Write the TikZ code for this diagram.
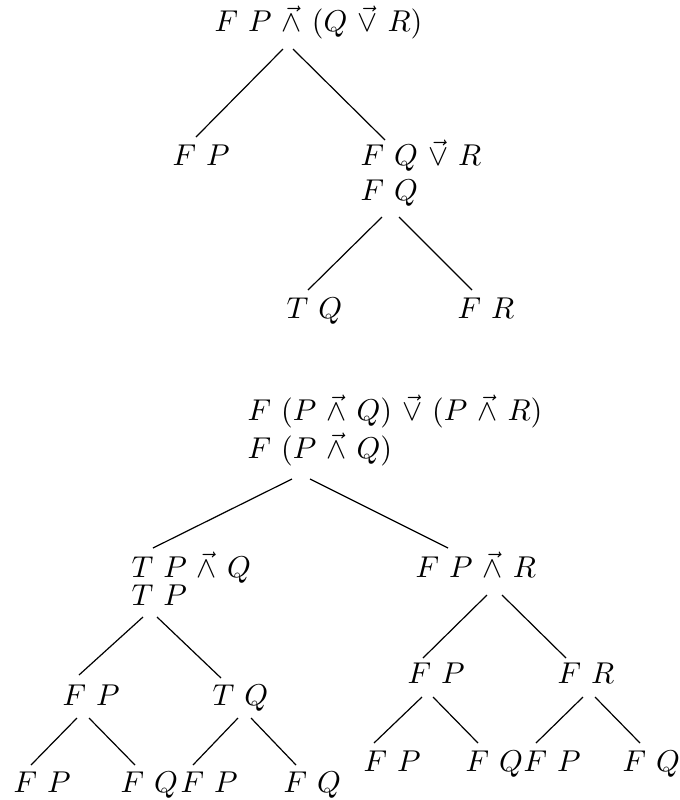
\documentclass[tikz,border=0pt]{standalone}
\usepackage{amsmath,amssymb}
\usetikzlibrary{positioning, calc}

\begin{document}
\begin{tikzpicture}[x=0.332pt, y=-0.332pt, every node/.style={anchor=base west, inner sep=0pt}]
                \useasboundingbox (0,0) rectangle (679,800);

                % prvo stablo
                \node (r1) at (214,31) {$F$ $P$ $\vec{\wedge}$ $(Q$ $\vec{\vee}$ $R)$};
                \node (a1) at (172,165) {$F$ $P$};
                \node (b1) at (360,165) {$F$ $Q$ $\vec{\vee}$ $R$};
                \node (b2) at (360,200) {$F$ $Q$};
                \node (c1) at (286,318) {$T$ $Q$};
                \node (d1) at (457,318) {$F$ $R$};

                \draw ($(r1.base west)+(69,18)$) -- ($(a1.base west)+(24,-28)$);
                \draw ($(r1.base west)+(79,18)$) -- ($(b1.base west)+(25,-25)$);
                \draw ($(b2.base west)+(22,17)$) -- ($(c1.base west)+(22,-28)$);
                \draw ($(b2.base west)+(39,17)$) -- ($(d1.base west)+(15,-28)$);

                % drugo stablo
                \node (r2) at (247,420) {$F$ $(P$ $\vec{\wedge}$ $Q)$ $\vec{\vee}$ $(P$ $\vec{\wedge}$ $R)$};
                \node (r3) at (247,458) {$F$ $(P$ $\vec{\wedge}$ $Q)$};
                \node (e1) at (131,577) {$T$ $P$ $\vec{\wedge}$ $Q$};
                \node (e2) at (131,605) {$T$ $P$};
                \node (f1) at (415,577) {$F$ $P$ $\vec{\wedge}$ $R$};
                \node (g1) at (62,705) {$F$ $P$};
                \node (h1) at (212,705) {$T$ $Q$};
                \node (i1) at (407,683) {$F$ $P$};
                \node (j1) at (557,683) {$F$ $R$};
                \node (g2) at (13,792) {$F$ $P$};
                \node (g3) at (120,792) {$F$ $Q$};
                \node (h2) at (180,792) {$F$ $P$};
                \node (h3) at (283,792) {$F$ $Q$};
                \node (i2) at (363,771) {$F$ $P$};
                \node (i3) at (465,771) {$F$ $Q$};
                \node (j2) at (523,771) {$F$ $P$};
                \node (j3) at (622,771) {$F$ $Q$};

                \draw ($(r3.base west)+(45,21)$) -- ($(e1.base west)+(22,-29)$);
                \draw ($(r3.base west)+(63,21)$) -- ($(f1.base west)+(33,-29)$);
                \draw ($(e2.base west)+(12,12)$) -- ($(g1.base west)+(17,-30)$);
                \draw ($(e2.base west)+(26,12)$) -- ($(h1.base west)+(9,-27)$);
                \draw ($(g1.base west)+(15,13)$) -- ($(g2.base west)+(18,-27)$);
                \draw ($(g1.base west)+(27,13)$) -- ($(g3.base west)+(15,-27)$);
                \draw ($(h1.base west)+(26,13)$) -- ($(h2.base west)+(13,-27)$);
                \draw ($(h1.base west)+(39,13)$) -- ($(h3.base west)+(13,-27)$);
                \draw ($(f1.base west)+(72,18)$) -- ($(i1.base west)+(16,-25)$);
                \draw ($(f1.base west)+(87,18)$) -- ($(j1.base west)+(9,-25)$);
                \draw ($(i1.base west)+(15,14)$) -- ($(i2.base west)+(11,-28)$);
                \draw ($(i1.base west)+(26,14)$) -- ($(i3.base west)+(13,-28)$);
                \draw ($(j1.base west)+(26,14)$) -- ($(j2.base west)+(13,-28)$);
                \draw ($(j1.base west)+(38,14)$) -- ($(j3.base west)+(18,-28)$);
            \end{tikzpicture}
\end{document}
